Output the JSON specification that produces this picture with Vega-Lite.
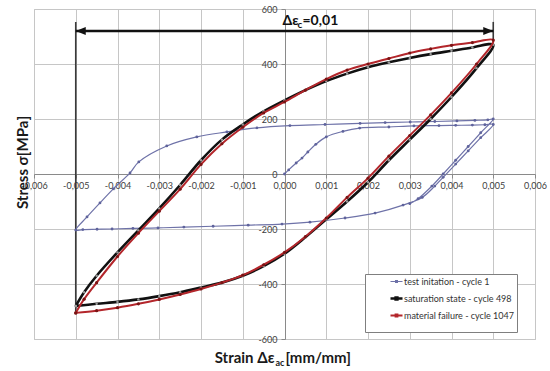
{
"$schema":"https://vega.github.io/schema/vega-lite/v6.json",
"width":501,"height":330,
"autosize":{"type":"none"},
"padding":{"left":34,"top":9,"right":15,"bottom":32},
"background":"white",
"config":{"view":{"stroke":"#bfbfbf","strokeWidth":1},"font":"Lato"},
"datasets":{
"cycle1":[
{"i":0,"x":0,"y":0},{"i":1,"x":0.0001,"y":15},{"i":2,"x":0.00028,"y":40},{"i":3,"x":0.00042,"y":58},{"i":4,"x":0.00056,"y":80},{"i":5,"x":0.00075,"y":108},{"i":6,"x":0.001,"y":135},{"i":7,"x":0.0014,"y":155},{"i":8,"x":0.0018,"y":167},{"i":9,"x":0.0025,"y":171},{"i":10,"x":0.0031,"y":175},{"i":11,"x":0.0037,"y":176},{"i":12,"x":0.0041,"y":177},{"i":13,"x":0.0045,"y":178},{"i":14,"x":0.0048,"y":179},{"i":15,"x":0.005,"y":180},
{"i":16,"x":0.0047,"y":132},{"i":17,"x":0.0044,"y":84},{"i":18,"x":0.0041,"y":36},{"i":19,"x":0.0038,"y":-12},{"i":20,"x":0.0036,"y":-44},{"i":21,"x":0.0033,"y":-85},{"i":22,"x":0.00284,"y":-113},{"i":23,"x":0.00217,"y":-142},{"i":24,"x":0.00145,"y":-160},{"i":25,"x":0.00061,"y":-175},{"i":26,"x":-0.00006,"y":-182},{"i":27,"x":-0.00087,"y":-186},{"i":28,"x":-0.00171,"y":-190},{"i":29,"x":-0.00241,"y":-193},{"i":30,"x":-0.00303,"y":-196},{"i":31,"x":-0.00363,"y":-198},{"i":32,"x":-0.00413,"y":-200},{"i":33,"x":-0.00449,"y":-201},{"i":34,"x":-0.00483,"y":-202},{"i":35,"x":-0.005,"y":-204},
{"i":36,"x":-0.00473,"y":-156},{"i":37,"x":-0.00442,"y":-105},{"i":38,"x":-0.0041,"y":-54},{"i":39,"x":-0.0037,"y":4},{"i":40,"x":-0.00349,"y":44},{"i":41,"x":-0.00282,"y":102},{"i":42,"x":-0.0021,"y":135},{"i":43,"x":-0.00138,"y":153},{"i":44,"x":-0.00066,"y":168},{"i":45,"x":0.00013,"y":176},{"i":46,"x":0.00097,"y":180},{"i":47,"x":0.00181,"y":184},{"i":48,"x":0.00241,"y":187},{"i":49,"x":0.00301,"y":189},{"i":50,"x":0.0036,"y":191},{"i":51,"x":0.00413,"y":193},{"i":52,"x":0.00456,"y":195},{"i":53,"x":0.00487,"y":197},{"i":54,"x":0.005,"y":200},
{"i":55,"x":0.0047,"y":150},{"i":56,"x":0.0044,"y":100},{"i":57,"x":0.0041,"y":50},{"i":58,"x":0.0038,"y":0},{"i":59,"x":0.00353,"y":-44},{"i":60,"x":0.0032,"y":-90},{"i":61,"x":0.003,"y":-108}
],
"cycle498":[
{"i":0,"x":-0.005,"y":-480},{"i":1,"x":-0.0048,"y":-430},{"i":2,"x":-0.0045,"y":-370},{"i":3,"x":-0.004,"y":-285},{"i":4,"x":-0.0035,"y":-205},{"i":5,"x":-0.003,"y":-125},{"i":6,"x":-0.0025,"y":-40},{"i":7,"x":-0.002,"y":50},{"i":8,"x":-0.0015,"y":125},{"i":9,"x":-0.001,"y":180},{"i":10,"x":-0.0005,"y":228},{"i":11,"x":0,"y":268},{"i":12,"x":0.0005,"y":305},{"i":13,"x":0.001,"y":338},{"i":14,"x":0.0015,"y":365},{"i":15,"x":0.002,"y":388},{"i":16,"x":0.0025,"y":406},{"i":17,"x":0.003,"y":422},{"i":18,"x":0.0035,"y":436},{"i":19,"x":0.004,"y":448},{"i":20,"x":0.0045,"y":460},{"i":21,"x":0.005,"y":470},
{"i":22,"x":0.0046,"y":385},{"i":23,"x":0.004,"y":280},{"i":24,"x":0.0035,"y":200},{"i":25,"x":0.003,"y":125},{"i":26,"x":0.0025,"y":50},{"i":27,"x":0.002,"y":-30},{"i":28,"x":0.0015,"y":-100},{"i":29,"x":0.001,"y":-165},{"i":30,"x":0.0005,"y":-230},{"i":31,"x":0,"y":-290},{"i":32,"x":-0.0005,"y":-335},{"i":33,"x":-0.001,"y":-370},{"i":34,"x":-0.0015,"y":-395},{"i":35,"x":-0.002,"y":-413},{"i":36,"x":-0.0025,"y":-430},{"i":37,"x":-0.003,"y":-444},{"i":38,"x":-0.0035,"y":-456},{"i":39,"x":-0.004,"y":-465},{"i":40,"x":-0.0045,"y":-472},{"i":41,"x":-0.005,"y":-480}
],
"cycle1047":[
{"i":0,"x":-0.005,"y":-505},{"i":1,"x":-0.0048,"y":-455},{"i":2,"x":-0.0045,"y":-395},{"i":3,"x":-0.004,"y":-300},{"i":4,"x":-0.0035,"y":-215},{"i":5,"x":-0.003,"y":-135},{"i":6,"x":-0.0025,"y":-55},{"i":7,"x":-0.002,"y":35},{"i":8,"x":-0.0015,"y":110},{"i":9,"x":-0.001,"y":170},{"i":10,"x":-0.0005,"y":222},{"i":11,"x":0,"y":262},{"i":12,"x":0.0005,"y":305},{"i":13,"x":0.001,"y":345},{"i":14,"x":0.0015,"y":378},{"i":15,"x":0.002,"y":400},{"i":16,"x":0.0025,"y":420},{"i":17,"x":0.003,"y":440},{"i":18,"x":0.0035,"y":455},{"i":19,"x":0.004,"y":468},{"i":20,"x":0.0045,"y":478},{"i":21,"x":0.005,"y":487},
{"i":22,"x":0.0046,"y":400},{"i":23,"x":0.004,"y":295},{"i":24,"x":0.0035,"y":215},{"i":25,"x":0.003,"y":140},{"i":26,"x":0.0025,"y":65},{"i":27,"x":0.002,"y":-15},{"i":28,"x":0.0015,"y":-85},{"i":29,"x":0.001,"y":-160},{"i":30,"x":0.0005,"y":-228},{"i":31,"x":0,"y":-285},{"i":32,"x":-0.0005,"y":-330},{"i":33,"x":-0.001,"y":-368},{"i":34,"x":-0.0015,"y":-395},{"i":35,"x":-0.002,"y":-418},{"i":36,"x":-0.0025,"y":-438},{"i":37,"x":-0.003,"y":-456},{"i":38,"x":-0.0035,"y":-472},{"i":39,"x":-0.004,"y":-486},{"i":40,"x":-0.0045,"y":-497},{"i":41,"x":-0.005,"y":-505}
],
"arrow":[{"x1":-0.005,"x2":0.005,"y":520}],
"guides":[{"x":-0.005,"y1":553,"y2":-498},{"x":0.005,"y1":553,"y2":478}],
"label":[{"x":0,"y":520}]
},
"resolve":{"axis":{"x":"independent","y":"independent"}},
"layer":[
{"data":{"name":"guides"},"mark":{"type":"rule","color":"#3a3a3a","strokeWidth":1.6},
 "encoding":{"x":{"field":"x","type":"quantitative","scale":{"domain":[-0.006,0.006],"nice":false,"zero":false},"axis":null},
  "y":{"field":"y1","type":"quantitative","scale":{"domain":[-600,600],"nice":false},"axis":null},"y2":{"field":"y2"}}},
{"data":{"name":"cycle1"},"mark":{"type":"line","strokeWidth":1.2,"interpolate":"catmull-rom"},
 "encoding":{
  "x":{"field":"x","type":"quantitative","axis":{"orient":"bottom","offset":-165,"values":[-0.006,-0.005,-0.004,-0.003,-0.002,-0.001,0,0.001,0.002,0.003,0.004,0.005,0.006],"grid":true,"gridColor":"#c6c6c6","domainColor":"#8a8a8a","tickColor":"#8a8a8a","tickSize":4,"labelPadding":3,"labelFontSize":9,"labelColor":"#404040","labelFlush":false,"labelOverlap":false,"labelExpr":"(datum.value < 0 ? '-' : '') + replace(format(abs(datum.value), '.3f'), '.', ',')","title":"Strain Δε","titleFontSize":15,"titleFontWeight":"bold","titleColor":"#1a1a1a","titleAlign":"right","titleX":240,"titleY":188,"titleBaseline":"alphabetic"}},
  "y":{"field":"y","type":"quantitative","axis":{"orient":"left","offset":-251,"values":[-600,-400,-200,0,200,400,600],"grid":true,"gridColor":"#c6c6c6","domainColor":"#8a8a8a","tickColor":"#8a8a8a","tickSize":4,"labelPadding":4,"labelFontSize":9,"labelColor":"#404040","labelFlush":false,"labelOverlap":false,"labelExpr":"(datum.value < 0 ? '-' : '') + format(abs(datum.value), 'd')","title":"Stress σ[MPa]","titleFontSize":15,"titleFontWeight":"bold","titleColor":"#1a1a1a","titleAlign":"center","titleX":-258,"titleY":153,"titleBaseline":"alphabetic","titleAngle":-90}},
  "order":{"field":"i","type":"quantitative"},
  "color":{"datum":"test initation - cycle 1","type":"nominal","scale":{"domain":["test initation - cycle 1","saturation state - cycle 498","material failure - cycle 1047"],"range":["#6e72a8","#111111","#b3262b"]},
   "legend":{"orient":"none","legendX":331,"legendY":265,"title":" ","titleOrient":"bottom","titleFontSize":8,"titlePadding":0,"padding":3,"fillColor":"white","strokeColor":"#7f7f7f","symbolType":"M-1,0H1M-0.15,-0.15H0.15V0.15H-0.15Z","symbolSize":144,"symbolStrokeWidth":1.5,"symbolOffset":24,"labelOffset":3,"labelFontSize":9,"labelColor":"#333333","rowPadding":5,"labelExpr":"datum.label + '           '",
    "encode":{"symbols":{"update":{"strokeWidth":{"signal":"datum.value == 'saturation state - cycle 498' ? 2.5 : datum.value == 'material failure - cycle 1047' ? 2 : 1.2"}}}}}}}},
{"data":{"name":"cycle1"},"mark":{"type":"point","filled":true,"size":8,"color":"#5f639c","opacity":1},
 "encoding":{"x":{"field":"x","type":"quantitative","axis":null},"y":{"field":"y","type":"quantitative","axis":null}}},
{"data":{"name":"cycle498"},"mark":{"type":"line","strokeWidth":2.6,"color":"#111111","interpolate":"catmull-rom"},
 "encoding":{
  "x":{"field":"x","type":"quantitative","axis":{"orient":"bottom","offset":-165,"grid":false,"domain":false,"ticks":false,"labels":false,"title":"ac","titleFontSize":9,"titleFontWeight":"bold","titleColor":"#1a1a1a","titleAlign":"left","titleX":241,"titleY":191,"titleBaseline":"alphabetic"}},
  "y":{"field":"y","type":"quantitative","axis":null},
  "order":{"field":"i","type":"quantitative"}}},
{"data":{"name":"cycle498"},"mark":{"type":"point","filled":true,"size":6,"color":"#9a9a9a","opacity":1},
 "encoding":{"x":{"field":"x","type":"quantitative","axis":null},"y":{"field":"y","type":"quantitative","axis":null}}},
{"data":{"name":"cycle1047"},"mark":{"type":"line","strokeWidth":2,"color":"#b3262b","interpolate":"catmull-rom"},
 "encoding":{
  "x":{"field":"x","type":"quantitative","axis":{"orient":"bottom","offset":-165,"grid":false,"domain":false,"ticks":false,"labels":false,"title":"[mm/mm]","titleFontSize":15,"titleFontWeight":"bold","titleColor":"#1a1a1a","titleAlign":"left","titleX":251,"titleY":188,"titleBaseline":"alphabetic"}},
  "y":{"field":"y","type":"quantitative","axis":null},
  "order":{"field":"i","type":"quantitative"}}},
{"data":{"name":"cycle1047"},"mark":{"type":"point","filled":true,"size":10,"color":"#7a1414","opacity":1},
 "encoding":{"x":{"field":"x","type":"quantitative","axis":null},"y":{"field":"y","type":"quantitative","axis":null}}},
{"data":{"name":"arrow"},"mark":{"type":"rule","color":"#111111","strokeWidth":2.5},
 "encoding":{"x":{"field":"x1","type":"quantitative","axis":null},"x2":{"field":"x2"},"y":{"field":"y","type":"quantitative","axis":null}}},
{"data":{"name":"arrow"},"mark":{"type":"point","shape":"M0,0L2,-0.8L2,0.8Z","size":100,"filled":true,"color":"#111111","opacity":1},
 "encoding":{"x":{"field":"x1","type":"quantitative","axis":null},"y":{"field":"y","type":"quantitative","axis":null}}},
{"data":{"name":"arrow"},"mark":{"type":"point","shape":"M0,0L-2,-0.8L-2,0.8Z","size":100,"filled":true,"color":"#111111","opacity":1},
 "encoding":{"x":{"field":"x2","type":"quantitative","axis":null},"y":{"field":"y","type":"quantitative","axis":null}}},
{"data":{"name":"label"},"mark":{"type":"text","text":"Δε","align":"left","baseline":"alphabetic","dx":-2,"dy":-6,"fontSize":14,"fontWeight":"bold","color":"#111111"},
 "encoding":{"x":{"field":"x","type":"quantitative","axis":null},"y":{"field":"y","type":"quantitative","axis":null}}},
{"data":{"name":"label"},"mark":{"type":"text","text":"c","align":"left","baseline":"alphabetic","dx":13,"dy":-3,"fontSize":10,"fontWeight":"bold","color":"#111111"},
 "encoding":{"x":{"field":"x","type":"quantitative","axis":null},"y":{"field":"y","type":"quantitative","axis":null}}},
{"data":{"name":"label"},"mark":{"type":"text","text":"=0,01","align":"left","baseline":"alphabetic","dx":18,"dy":-6,"fontSize":14,"fontWeight":"bold","color":"#111111"},
 "encoding":{"x":{"field":"x","type":"quantitative","axis":null},"y":{"field":"y","type":"quantitative","axis":null}}}
]
}
